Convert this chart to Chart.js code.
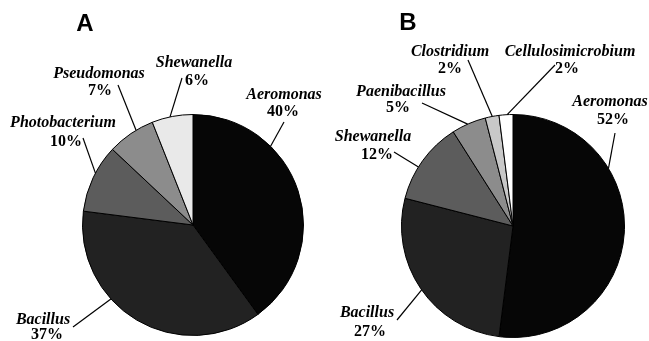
<!DOCTYPE html>
<html>
<head>
<meta charset="utf-8">
<script src="https://cdn.jsdelivr.net/npm/chart.js@4.4.0/dist/chart.umd.min.js"></script>
<style>
  body { margin: 0; background: #fff; width: 649px; height: 341px; overflow: hidden; }
  .panel { position: absolute; top: 0; }
</style>
</head>
<body>
<canvas id="pieA" class="panel" style="left:0" width="325" height="341"></canvas>
<canvas id="pieB" class="panel" style="left:325px" width="324" height="341"></canvas>
<script>
// Panel A
var generaA = ['Aeromonas', 'Bacillus', 'Photobacterium', 'Pseudomonas', 'Shewanella'];
var percentA = [40, 37, 10, 7, 6];
var coloursA = ['#060606', '#222222', '#5c5c5c', '#8c8c8c', '#e9e9e9'];

// Panel B
var generaB = ['Aeromonas', 'Bacillus', 'Shewanella', 'Paenibacillus', 'Clostridium', 'Cellulosimicrobium'];
var percentB = [52, 27, 12, 5, 2, 2];
var coloursB = ['#060606', '#222222', '#5c5c5c', '#8c8c8c', '#c8c8c8', '#ffffff'];

// label placement: angle where the leader touches the pie (deg, clockwise from top),
// leader end and text centre as offsets from the pie centre
var layoutA = [
    { angle: 44.6, end: [91, -103], name: [91, -130], pct: [90, -113] },
    { angle: 228, end: [-120, 102], name: [-150, 95], pct: [-146, 110] },
    { angle: 298, end: [-110, -87], name: [-130, -102], pct: [-127, -83] },
    { angle: 329, end: [-75, -140], name: [-94, -151], pct: [-93, -134] },
    { angle: 348, end: [-11, -147], name: [1, -162], pct: [4, -144] }
];
var layoutB = [
    { angle: 58.9, end: [102, -93], name: [97, -124], pct: [100, -106] },
    { angle: 235, end: [-116, 94], name: [-146, 87], pct: [-143, 106] },
    { angle: 302, end: [-119, -74], name: [-140, -89], pct: [-136, -71] },
    { angle: 336, end: [-91, -123], name: [-112, -134], pct: [-115, -118] },
    { angle: 349.3, end: [-45, -166], name: [-63, -174], pct: [-63, -157] },
    { angle: 357, end: [42, -161], name: [57, -174], pct: [54, -157] }
];

var calloutPlugin = {
    id: 'callouts',
    afterDatasetsDraw: function (chart, args, opts) {
        var c = chart.ctx;
        var arcs = chart.getDatasetMeta(0).data;
        var values = chart.data.datasets[0].data;
        var labels = chart.data.labels;
        c.save();
        arcs.forEach(function (arc, i) {
            var lay = opts.layout[i];
            var cx = arc.x, cy = arc.y, r = arc.outerRadius;
            var a = lay.angle * Math.PI / 180;
            c.beginPath();
            c.moveTo(cx + r * Math.sin(a), cy - r * Math.cos(a));
            c.lineTo(cx + lay.end[0], cy + lay.end[1]);
            c.strokeStyle = '#000';
            c.lineWidth = 1.2;
            c.stroke();
            c.fillStyle = '#000';
            c.textAlign = 'center';
            c.textBaseline = 'middle';
            c.font = 'italic bold 16px "Liberation Serif"';
            c.fillText(labels[i], cx + lay.name[0], cy + lay.name[1]);
            c.font = 'bold 16px "Liberation Serif"';
            c.fillText(values[i] + '%', cx + lay.pct[0], cy + lay.pct[1]);
        });
        c.font = 'bold 24px "Liberation Sans"';
        c.fillStyle = '#000';
        c.fillText(opts.panel, opts.panelPos[0], opts.panelPos[1]);
        c.restore();
    }
};

function makePie(id, labels, values, colours, layout, panel, panelPos, padding) {
    var ctx = document.getElementById(id).getContext('2d');
    return new Chart(ctx, {
        type: 'pie',
        data: {
            labels: labels,
            datasets: [{
                data: values,
                backgroundColor: colours,
                borderColor: '#000',
                borderWidth: 1
            }]
        },
        options: {
            responsive: false,
            animation: false,
            layout: { padding: padding },
            plugins: {
                legend: { display: false },
                tooltip: { enabled: false },
                callouts: { layout: layout, panel: panel, panelPos: panelPos }
            }
        },
        plugins: [calloutPlugin]
    });
}

var pieA = makePie('pieA', generaA, percentA, coloursA, layoutA, 'A', [85, 24],
    { left: 82, right: 21, top: 114, bottom: 5 });
var pieB = makePie('pieB', generaB, percentB, coloursB, layoutB, 'B', [83, 23],
    { left: 76, right: 24, top: 114, bottom: 3 });
</script>
</body>
</html>
